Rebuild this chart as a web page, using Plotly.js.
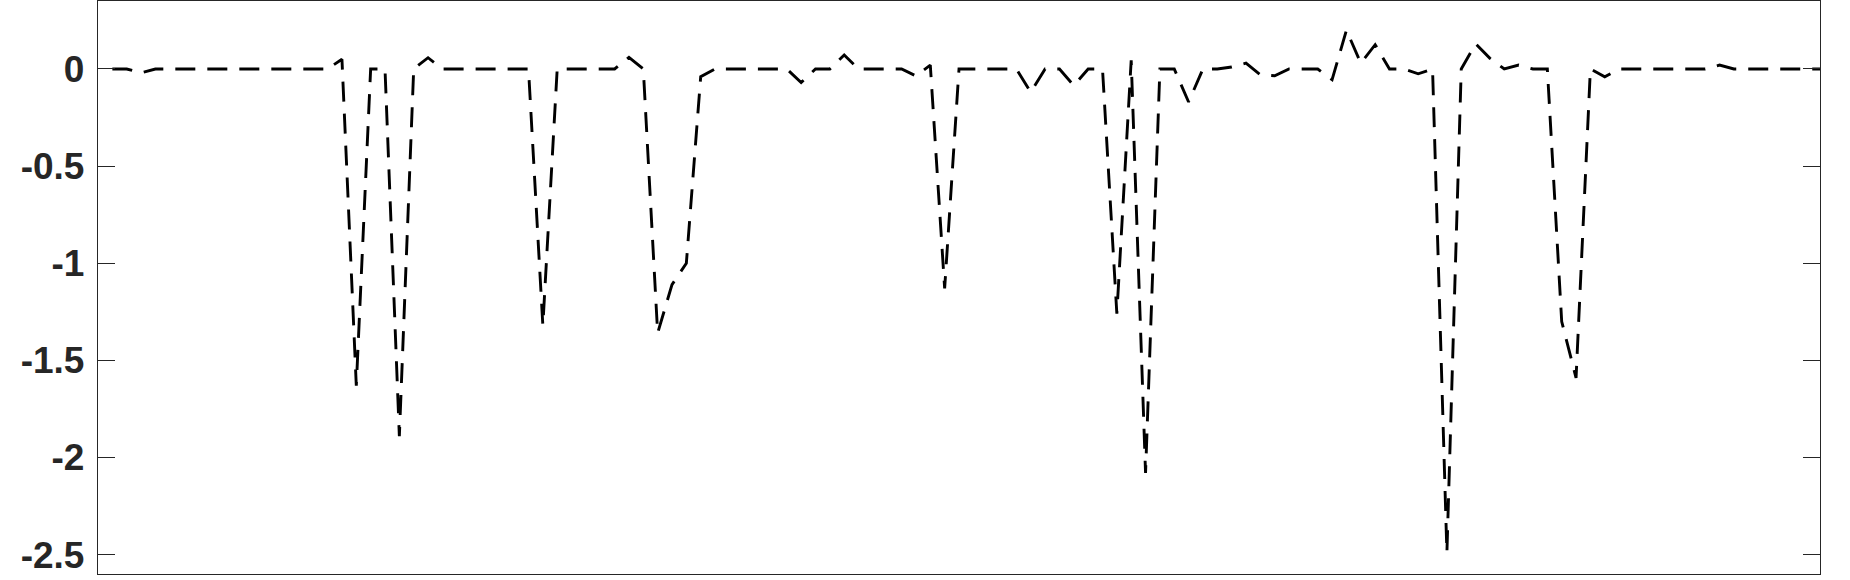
<!DOCTYPE html>
<html>
<head>
<meta charset="utf-8">
<script src="https://cdn.plot.ly/plotly-3.0.1.min.js"></script>
<style>
html,body{margin:0;padding:0;background:#fff;}
#chart{width:1850px;height:580px;}
</style>
</head>
<body>
<div id="chart"></div>
<script>
// sample index
const sampleIndex = [
  1,2,3,4,5,6,7,8,9,10,11,12,13,14,15,16,17,18,19,20,
  21,22,23,24,25,26,27,28,29,30,31,32,33,34,35,36,37,38,39,40,
  41,42,43,44,45,46,47,48,49,50,51,52,53,54,55,56,57,58,59,60,
  61,62,63,64,65,66,67,68,69,70,71,72,73,74,75,76,77,78,79,80,
  81,82,83,84,85,86,87,88,89,90,91,92,93,94,95,96,97,98,99,100,
  101,102,103,104,105,106,107,108,109,110,111,112,113,114,115,116,117,118,119,120
];
// series values
const seriesValues = [
  0, 0, -0.02, 0, 0, 0, 0, 0, 0, 0,
  0, 0, 0, 0, 0, 0, 0.05, -1.63, 0, 0,
  -1.89, 0, 0.058, 0, 0, 0, 0, 0, 0, 0,
  -1.32, 0, 0, 0, 0, 0, 0.06, 0, -1.36, -1.11,
  -1.0, -0.04, 0, 0, 0, 0, 0, 0, -0.07, 0,
  0, 0.072, 0, 0, 0, 0, -0.036, 0.02, -1.13, 0,
  0, 0, 0, 0, -0.12, 0, 0, -0.085, 0, 0,
  -1.26, 0.045, -2.08, 0, 0, -0.17, 0, 0, 0.01, 0.03,
  -0.03, -0.035, 0, 0, 0, -0.055, 0.2, 0.03, 0.125, 0,
  0, -0.025, 0, -2.49, 0, 0.13, 0.055, 0, 0.02, 0,
  0, -1.3, -1.59, 0, -0.04, 0, 0, 0, 0, 0,
  0, 0, 0.02, 0, 0, 0, 0, 0, 0, 0
];
// y tick values and labels
const yTickValues = [0, -0.5, -1, -1.5, -2, -2.5];
const yTickLabels = ["0", "-0.5", "-1", "-1.5", "-2", "-2.5"];
const xRange = [0, 120];
const yRange = [-2.6, 0.35];

const axisColor = '#262626';

const trace = {
  x: sampleIndex,
  y: seriesValues,
  type: 'scatter',
  mode: 'lines',
  line: {color: '#000000', width: 2.9, dash: '20px,12px'},
  hoverinfo: 'skip',
  showlegend: false
};

const layout = {
  width: 1850,
  height: 580,
  margin: {l: 98, r: 30, t: 1, b: 6, pad: 0},
  paper_bgcolor: '#ffffff',
  plot_bgcolor: '#ffffff',
  showlegend: false,
  xaxis: {
    range: xRange,
    showgrid: false,
    zeroline: false,
    showline: true,
    mirror: true,
    linecolor: axisColor,
    linewidth: 1.2,
    ticks: '',
    showticklabels: false
  },
  yaxis: {
    range: yRange,
    showgrid: false,
    zeroline: false,
    showline: true,
    mirror: 'ticks',
    linecolor: axisColor,
    linewidth: 1.2,
    ticks: 'inside',
    ticklen: 17,
    tickwidth: 1,
    tickcolor: axisColor,
    tickmode: 'array',
    tickvals: yTickValues,
    ticktext: yTickLabels,
    ticklabelstandoff: 5,
    tickfont: {family: '"Liberation Sans", Arial, sans-serif', size: 37, color: axisColor, weight: 'bold'}
  }
};

Plotly.newPlot('chart', [trace], layout, {staticPlot: true, displayModeBar: false});
</script>
</body>
</html>
